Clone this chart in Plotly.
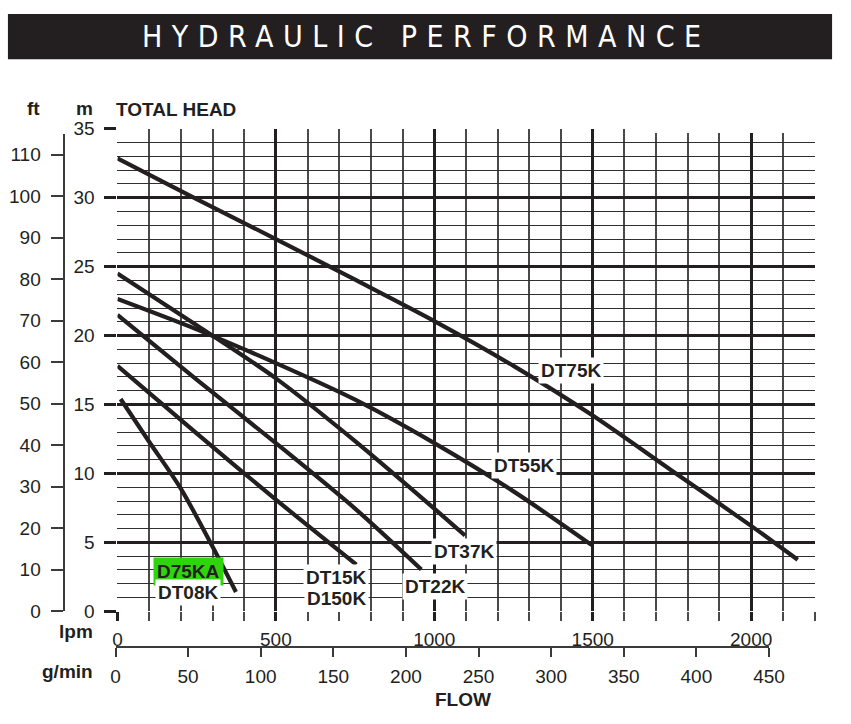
import plotly.graph_objects as go

# ---------------- data (flow in lpm, head in m) ----------------
dt75k_q = [0, 250, 500, 750, 1000, 1250, 1500, 1750, 2000, 2147]
dt75k_h = [32.86, 29.9, 27.0, 24.05, 21.05, 17.8, 14.2, 10.2, 6.2, 3.74]

dt55k_q = [0, 250, 500, 750, 1000, 1250, 1497]
dt55k_h = [22.65, 20.45, 18.0, 15.35, 12.2, 8.7, 4.8]

dt37k_q = [0, 250, 500, 750, 1000, 1097]
dt37k_h = [24.5, 20.75, 16.9, 12.35, 7.45, 5.5]

dt22k_q = [0, 250, 500, 750, 959]
dt22k_h = [21.5, 16.8, 12.2, 7.45, 3.04]

dt15k_q = [0, 250, 500, 754]
dt15k_h = [17.8, 12.9, 8.1, 3.39]

dt08k_q = [10, 100, 200, 300, 374]
dt08k_h = [15.4, 12.3, 8.9, 4.7, 1.4]

curves = [
    ("DT75K", dt75k_q, dt75k_h),
    ("DT55K", dt55k_q, dt55k_h),
    ("DT37K", dt37k_q, dt37k_h),
    ("DT22K", dt22k_q, dt22k_h),
    ("DT15K", dt15k_q, dt15k_h),
    ("DT08K", dt08k_q, dt08k_h),
]

# label texts and their anchor points (lpm, m)
label_names = ["DT75K", "DT55K", "DT37K", "DT22K", "DT15K", "D150K", "D75KA", "DT08K"]
label_q = [1430, 1284, 1095, 1003, 689, 690, 224, 222]
label_h = [17.5, 10.57, 4.35, 1.77, 2.47, 0.95, 2.92, 1.36]
label_bg = ["white", "white", "white", "white", "white", "white", "#2fd50c", "white"]

lpm_ticks = [0, 500, 1000, 1500, 2000]
m_ticks = [0, 5, 10, 15, 20, 25, 30, 35]
ft_ticks = [0, 10, 20, 30, 40, 50, 60, 70, 80, 90, 100, 110]
gpm_ticks = [0, 50, 100, 150, 200, 250, 300, 350, 400, 450]

# ---------------- layout helpers ----------------
W, H = 851, 724
INK = "#231f20"
FONT = "Liberation Sans, Arial, sans-serif"


def X(px):
    return px / W


def Y(py):
    return 1 - py / H


fig = go.Figure()

for name, q, h in curves:
    fig.add_trace(go.Scatter(
        x=q, y=h, mode="lines", name=name,
        line=dict(color=INK, width=4.2, shape="spline", smoothing=0.8),
        hoverinfo="skip", showlegend=False,
    ))

# dummy trace so the secondary scales (g/min, ft) get drawn
fig.add_trace(go.Scatter(x=[None], y=[None], xaxis="x2", yaxis="y2",
                         showlegend=False, hoverinfo="skip"))

tick_font = dict(family=FONT, size=19, color=INK)

fig.update_layout(
    width=W, height=H, autosize=False,
    margin=dict(l=0, r=0, t=0, b=0),
    paper_bgcolor="white", plot_bgcolor="rgba(0,0,0,0)",
    showlegend=False,
    xaxis=dict(
        domain=[X(115.3), X(830)], range=[0, 2200],
        tickvals=lpm_ticks, ticks="outside", ticklen=9, tickwidth=2.6, tickcolor=INK,
        tickfont=tick_font, ticklabelstandoff=2,
        showgrid=True, gridcolor=INK, gridwidth=2.6,
        zeroline=False, showline=False, anchor="y",
        minor=dict(dtick=100, tick0=0, ticks="outside", ticklen=9, tickwidth=1.6,
                   tickcolor="#4a4a4a", showgrid=True, gridcolor="#4a4a4a", gridwidth=1.6),
    ),
    yaxis=dict(
        domain=[Y(619.3), Y(122.3)], range=[0, 35],
        tickvals=m_ticks, ticks="outside", ticklen=12, tickwidth=2.6, tickcolor=INK,
        tickfont=tick_font, ticklabelstandoff=6,
        showgrid=True, gridcolor=INK, gridwidth=2.6,
        zeroline=False, showline=False, anchor="x",
        minor=dict(dtick=1, tick0=0, showgrid=True, gridcolor="#2f2f2f", gridwidth=1.4),
    ),
    xaxis2=dict(
        domain=[X(113.3), X(783.3)], range=[0, 450],
        anchor="free", position=Y(655.7), side="bottom",
        tickvals=gpm_ticks, ticks="outside", ticklen=9, tickwidth=2, tickcolor="#3a3a3a",
        tickfont=tick_font, ticklabelstandoff=4,
        showline=True, linecolor="#3a3a3a", linewidth=2,
        showgrid=False, zeroline=False,
    ),
    yaxis2=dict(
        domain=[Y(619.3), Y(128)], range=[0, 114.9],
        anchor="free", position=X(60), side="left",
        tickvals=ft_ticks, ticks="outside", ticklen=12, tickwidth=2, tickcolor="#3a3a3a",
        tickfont=tick_font, ticklabelstandoff=6,
        showline=True, linecolor="#3a3a3a", linewidth=2,
        showgrid=False, zeroline=False,
    ),
)

shapes = [
    # title bar
    dict(type="rect", xref="paper", yref="paper", x0=X(3), x1=X(848), y0=Y(50.7), y1=Y(4),
         fillcolor=INK, line=dict(width=0), layer="above"),
    # the top grid line stops short on the right
    dict(type="rect", xref="paper", yref="paper", x0=X(646.5), x1=X(836), y0=Y(126.8), y1=Y(116),
         fillcolor="white", line=dict(width=0), layer="above"),
]
fig.update_layout(shapes=shapes)

ann = []
ann.append(dict(xref="paper", yref="paper", x=X(432), y=Y(27.5), xanchor="center", yanchor="middle",
                text='<span style="letter-spacing:9.5px">HYDRAULIC PERFORMANCE</span>',
                showarrow=False,
                font=dict(family="Liberation Sans Narrow, DejaVu Sans Condensed, sans-serif",
                          size=30, color="white")))
bold = dict(family=FONT, size=19, color=INK, weight="bold")
for txt, xp, yp, xa in [("ft", 29.7, 101, "center"), ("m", 81.7, 101, "center"),
                        ("TOTAL HEAD", 111.7, 102, "left"), ("lpm", 92.7, 640, "right"),
                        ("g/min", 92.7, 681, "right"), ("FLOW", 470, 710, "center")]:
    ann.append(dict(xref="paper", yref="paper", x=X(xp), y=Y(yp), xanchor=xa, yanchor="middle",
                    text=txt, showarrow=False, font=bold))

for name, q, h, bg in zip(label_names, label_q, label_h, label_bg):
    ann.append(dict(xref="x", yref="y", x=q, y=h, xanchor="center", yanchor="middle",
                    text=name, showarrow=False, font=bold, bgcolor=bg,
                    borderpad=2 if bg == "white" else 3))
fig.update_layout(annotations=ann)

fig.write_html(
    "out.html",
    config={"displayModeBar": False},
    post_script=(
        "document.documentElement.style.margin='0';"
        "document.documentElement.style.overflow='hidden';"
        "document.body.style.margin='0';document.body.style.padding='0';"
        "document.body.style.overflow='hidden';"
    ),
)
